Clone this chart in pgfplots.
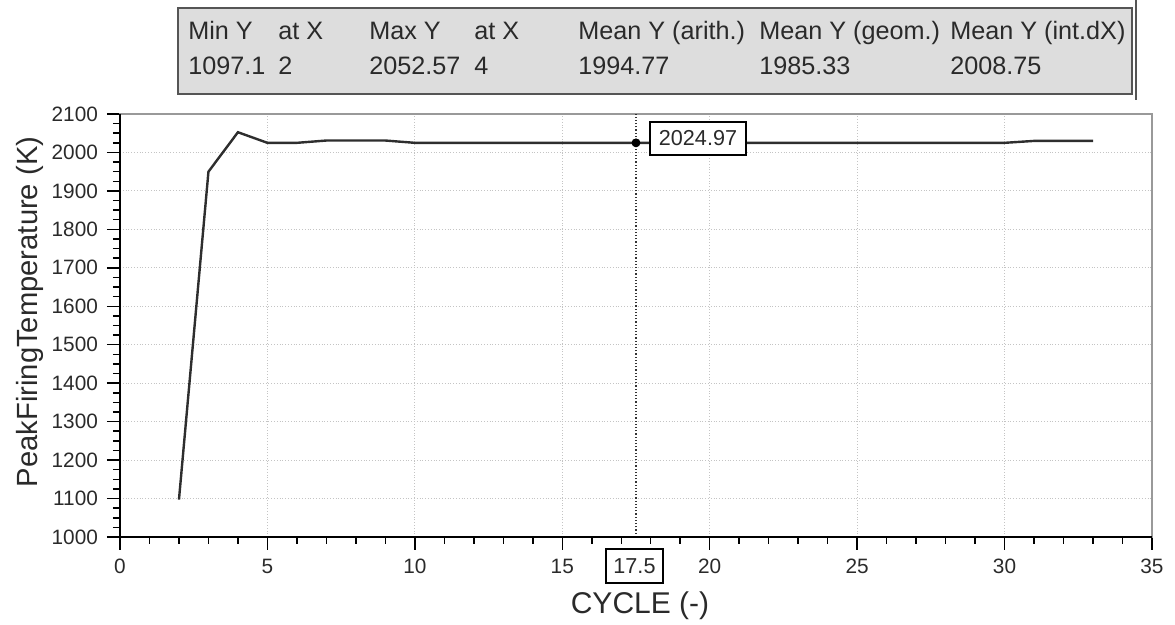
\documentclass[border=0pt]{standalone}
\usepackage{fontspec}
\setmainfont{Liberation Sans}
\usepackage{pgfplots}
\pgfplotsset{compat=1.18}
\definecolor{linec}{HTML}{2E2E2E}
\definecolor{gridc}{HTML}{C4C4C4}
\definecolor{boxfill}{HTML}{DDDDDD}
\definecolor{boxdraw}{HTML}{555555}
\definecolor{txt}{HTML}{2A2A2A}
\begin{document}
\begin{tikzpicture}
\useasboundingbox (-60pt,-44pt) rectangle (527.5pt,268.5pt);
\begin{axis}[
  at={(0,0)}, anchor=south west,
  width=516pt, height=211.5pt, scale only axis,
  xmin=0, xmax=35, ymin=1000, ymax=2100,
  xtick={0,5,...,35}, minor x tick num=4,
  ytick={1000,1100,...,2100}, minor y tick num=3,
  tick pos=left, tick align=outside,
  major tick length=6.5pt, minor tick length=3.5pt,
  every tick/.style={black, line width=0.75pt},
  grid=major,
  major grid style={gridc, densely dotted, line width=0.5pt},
  axis line style={draw=gray!80, line width=0.6pt},
  /pgf/number format/assume math mode=true,
  /pgf/number format/1000 sep={},
  ticklabel style={font=\fontsize{10.4}{12}\selectfont, text=txt},
  xticklabel style={yshift=-1pt},
  yticklabel style={xshift=-1pt},
  clip=false,
]
\addplot[linec, line width=1.2pt, mark=none] coordinates {
 (2,1097.1) (3,1950) (4,2052.57) (5,2025) (6,2025) (7,2031) (8,2031) (9,2031)
 (10,2025) (11,2025) (12,2025) (13,2025) (14,2025) (15,2025) (16,2025) (17,2025)
 (18,2025) (19,2025) (20,2025) (21,2025) (22,2025) (23,2025) (24,2025) (25,2025)
 (26,2025) (27,2025) (28,2025) (29,2025) (30,2025) (31,2030) (32,2030) (33,2030)
};
\addplot[black!80, densely dotted, line width=0.6pt, mark=none] coordinates {(17.5,1000) (17.5,2100)};
\addplot[black, only marks, mark=*, mark size=2pt] coordinates {(17.5,2024.97)};
\end{axis}
% axis lines (bottom and left, black)
\draw[black, line width=1pt] (0,211.5pt) -- (0,0) -- (516pt,0);
% cursor labels
\node[draw=black, fill=white, line width=0.6pt, inner sep=2pt, minimum width=48pt, minimum height=16.5pt,
  font=\fontsize{10.8}{12}\selectfont, text=txt] at (289pt,199.25pt) {2024.97};
\node[draw=black, fill=white, line width=0.6pt, inner sep=2pt, minimum width=28.5pt, minimum height=17pt,
  font=\fontsize{10.8}{12}\selectfont, text=txt] at (257.25pt,-14.5pt) {17.5};
% axis labels
\node[font=\fontsize{14.6}{16}\selectfont, text=txt, rotate=90] at (-45pt,112.5pt) {PeakFiringTemperature (K)};
\node[font=\fontsize{15}{17}\selectfont, text=txt, anchor=base] at (260pt,-38.5pt) {CYCLE (-)};
% statistics box
\draw[draw=boxdraw, fill=boxfill, line width=1pt] (29pt,221.5pt) rectangle (506pt,264.5pt);
\draw[boxdraw, line width=1pt] (508pt,268.5pt) -- (508pt,218.5pt);
\begin{scope}[every node/.style={anchor=base west, inner sep=0pt, font=\fontsize{12.6}{14}\selectfont, text=txt}]
\node at (34pt,248.5pt) {Min Y};
\node at (79pt,248.5pt) {at X};
\node at (124.5pt,248.5pt) {Max Y};
\node at (177pt,248.5pt) {at X};
\node at (229pt,248.5pt) {Mean Y (arith.)};
\node at (319.5pt,248.5pt) {Mean Y (geom.)};
\node at (415pt,248.5pt) {Mean Y (int.dX)};
\node at (34pt,231pt) {1097.1};
\node at (79pt,231pt) {2};
\node at (124.5pt,231pt) {2052.57};
\node at (177pt,231pt) {4};
\node at (229pt,231pt) {1994.77};
\node at (319.5pt,231pt) {1985.33};
\node at (415pt,231pt) {2008.75};
\end{scope}
\end{tikzpicture}
\end{document}
